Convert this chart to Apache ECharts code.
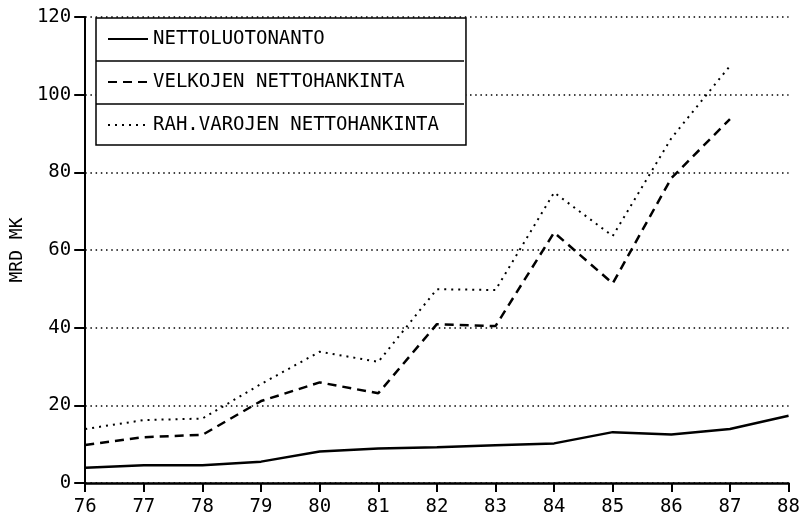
<!DOCTYPE html>
<html>
<head>
<meta charset="utf-8">
<script src="https://cdn.jsdelivr.net/npm/echarts@6/dist/echarts.min.js"></script>
<style>
  html, body { margin: 0; padding: 0; background: #fff; }
  #chart { width: 803px; height: 525px; }
</style>
</head>
<body>
<div id="chart"></div>
<script>
// vuodet
const years = ['76', '77', '78', '79', '80', '81', '82', '83', '84', '85', '86', '87', '88'];
// MRD MK
const nettoluotonanto = [3.9, 4.6, 4.6, 5.5, 8.1, 8.9, 9.2, 9.7, 10.2, 13.1, 12.5, 13.9, 17.3];
const velkojenNettohankinta = [9.8, 11.8, 12.4, 21.1, 25.9, 23.1, 40.9, 40.4, 64.5, 51.4, 78.5, 93.7];
const rahVarojenNettohankinta = [13.9, 16.2, 16.6, 25.5, 33.8, 31.2, 49.9, 49.7, 74.8, 63.6, 88.8, 107.4];
const yTicks = [0, 20, 40, 60, 80, 100, 120];

const names = ['NETTOLUOTONANTO', 'VELKOJEN NETTOHANKINTA', 'RAH.VAROJEN NETTOHANKINTA'];
const font = 'DejaVu Sans Mono';

const chart = echarts.init(document.getElementById('chart'), null, { renderer: 'canvas' });

const option = {
  backgroundColor: '#fff',
  animation: false,
  textStyle: { fontFamily: font, color: '#000' },
  grid: { left: 84, right: 13, top: 17, bottom: 42 },
  legend: {
    data: names,
    orient: 'vertical',
    left: 96,
    top: 18,
    padding: [11, 27, 10, 11],
    itemWidth: 40,
    itemHeight: 20,
    itemGap: 23,
    backgroundColor: '#fff',
    borderColor: '#000',
    borderWidth: 1.5,
    borderRadius: 0,
    // hide the symbol drawn in the middle of the legend line
    itemStyle: { color: 'transparent', borderWidth: 0, opacity: 0 },
    textStyle: { fontFamily: font, fontSize: 19, lineHeight: 20, color: '#000' }
  },
  xAxis: {
    type: 'category',
    data: years,
    boundaryGap: false,
    axisLine: { lineStyle: { color: '#000', width: 2.5 } },
    axisTick: { show: true, length: 9, interval: 0, lineStyle: { color: '#000', width: 2 } },
    axisLabel: { interval: 0, margin: 15, fontFamily: font, fontSize: 19, color: '#000' },
    splitLine: { show: false }
  },
  yAxis: {
    type: 'value',
    min: yTicks[0],
    max: yTicks[yTicks.length - 1],
    interval: 20,
    name: 'MRD MK',
    nameLocation: 'middle',
    nameRotate: 90,
    nameGap: 54,
    nameTextStyle: { fontFamily: font, fontSize: 18, color: '#000' },
    axisLine: { show: true, lineStyle: { color: '#000', width: 2 } },
    axisTick: { show: true, length: 11, lineStyle: { color: '#000', width: 2 } },
    axisLabel: { margin: 14, fontFamily: font, fontSize: 19, color: '#000' },
    splitLine: { show: true, lineStyle: { color: '#000', width: 1.5, type: [1.5, 3.7] } }
  },
  series: [
    {
      name: names[0],
      type: 'line',
      data: nettoluotonanto,
      symbol: 'none',
      lineStyle: { color: '#000', width: 2.5, type: 'solid' },
      itemStyle: { color: '#000' }
    },
    {
      name: names[1],
      type: 'line',
      data: velkojenNettohankinta,
      symbol: 'none',
      lineStyle: { color: '#000', width: 2.5, type: [9, 6] },
      itemStyle: { color: '#000' }
    },
    {
      name: names[2],
      type: 'line',
      data: rahVarojenNettohankinta,
      symbol: 'none',
      lineStyle: { color: '#000', width: 2, type: [2, 5] },
      itemStyle: { color: '#000' }
    }
  ],
  // legend row separators
  graphic: [
    { type: 'line', z: 100, shape: { x1: 96, y1: 61, x2: 464, y2: 61 }, style: { stroke: '#000', lineWidth: 1.5 } },
    { type: 'line', z: 100, shape: { x1: 96, y1: 104, x2: 464, y2: 104 }, style: { stroke: '#000', lineWidth: 1.5 } }
  ]
};

chart.setOption(option);
</script>
</body>
</html>
